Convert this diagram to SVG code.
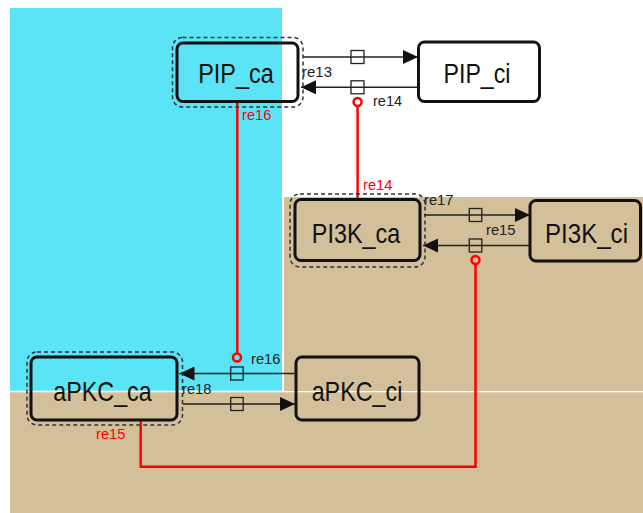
<svg xmlns="http://www.w3.org/2000/svg" width="643" height="513" viewBox="0 0 643 513">
<style>
.node{fill:none;stroke:#111;stroke-width:3}
.dash{fill:none;stroke:#333;stroke-width:1.5;stroke-dasharray:4 3}
.lbl{font-family:"Liberation Sans Narrow","Liberation Sans",Arial,sans-serif;font-size:28.5px;fill:#111;text-anchor:middle}
.sm{font-family:"Liberation Sans",Arial,sans-serif;font-size:14.5px;fill:#222}
.rl{font-family:"Liberation Sans",Arial,sans-serif;font-size:14.5px;fill:#f00}
.ln{fill:none;stroke:#222;stroke-width:1.5}
.sq{fill:none;stroke:#222;stroke-width:1.3}
.red{fill:none;stroke:#f00;stroke-width:2.5}
</style>
<defs>
<marker id="ah" markerWidth="16" markerHeight="14" refX="15" refY="7" orient="auto" markerUnits="userSpaceOnUse">
<path d="M0,0 L15,7 L0,14 Z" fill="#111"/>
</marker>
</defs>
<rect width="643" height="513" fill="#fff"/>
<g id="compartments">
<rect x="284" y="197" width="359" height="194" fill="#D3BF99"/>
<rect x="10" y="392.3" width="633" height="121" fill="#D3BF99"/>
<rect x="10" y="8" width="272" height="382.7" fill="#5AE4F5"/>
</g>
<g id="connectors">
<!-- re13 -->
<line class="ln" x1="303" y1="57" x2="418" y2="57" marker-end="url(#ah)"/>
<rect class="sq" x="351" y="50.5" width="13" height="13"/>
<!-- re14 -->
<line class="ln" x1="418" y1="87.3" x2="301" y2="87.3" marker-end="url(#ah)"/>
<rect class="sq" x="351" y="80.8" width="13" height="13"/>
<!-- re17 -->
<line class="ln" x1="424" y1="215" x2="530" y2="215" marker-end="url(#ah)"/>
<rect class="sq" x="469.3" y="208.5" width="12.5" height="13"/>
<!-- re15 -->
<line class="ln" x1="530" y1="245.5" x2="423" y2="245.5" marker-end="url(#ah)"/>
<rect class="sq" x="469.3" y="239" width="12.5" height="13"/>
<!-- re16 -->
<line class="ln" x1="296" y1="373.5" x2="179.5" y2="373.5" marker-end="url(#ah)"/>
<rect class="sq" x="230.7" y="367" width="12.5" height="13"/>
<!-- re18 -->
<line class="ln" x1="183" y1="404" x2="295" y2="404" marker-end="url(#ah)"/>
<rect class="sq" x="230.7" y="397.5" width="12.5" height="13"/>
<!-- modifiers -->
<line class="red" x1="237.3" y1="101" x2="237.3" y2="353.3"/>
<circle class="red" cx="237" cy="357.5" r="4" stroke-width="2"/>
<line class="red" x1="357.6" y1="106" x2="357.6" y2="199"/>
<circle class="red" cx="357.6" cy="102" r="4" stroke-width="2"/>
<polyline class="red" points="140.7,420 140.7,466.7 475.5,466.7 475.5,264"/>
<circle class="red" cx="475.5" cy="260" r="4" stroke-width="2"/>
<text class="sm" x="302" y="77" textLength="30" lengthAdjust="spacingAndGlyphs">re13</text>
<text class="sm" x="373" y="106" textLength="29" lengthAdjust="spacingAndGlyphs">re14</text>
<text class="sm" x="424" y="205" textLength="29.5" lengthAdjust="spacingAndGlyphs">re17</text>
<text class="sm" x="486" y="235" textLength="29.5" lengthAdjust="spacingAndGlyphs">re15</text>
<text class="sm" x="251" y="364" textLength="29.5" lengthAdjust="spacingAndGlyphs">re16</text>
<text class="sm" x="182" y="394.3" textLength="29.5" lengthAdjust="spacingAndGlyphs">re18</text>
<text class="rl" x="242" y="120" textLength="29.5" lengthAdjust="spacingAndGlyphs">re16</text>
<text class="rl" x="363" y="190" textLength="29.5" lengthAdjust="spacingAndGlyphs">re14</text>
<text class="rl" x="96" y="439" textLength="29.5" lengthAdjust="spacingAndGlyphs">re15</text>
</g>
<g id="PIP_ca">
<rect class="dash" x="172.5" y="37.5" width="130.5" height="69.5" rx="10"/>
<rect class="node" x="177" y="43" width="121" height="58.5" rx="6"/>
<text class="lbl" x="236" y="83.3" textLength="75.5" lengthAdjust="spacingAndGlyphs">PIP_ca</text>
</g>
<g id="PIP_ci">
<rect class="node" x="418.5" y="42" width="121" height="59.5" rx="6"/>
<text class="lbl" x="477" y="83.3" textLength="67" lengthAdjust="spacingAndGlyphs">PIP_ci</text>
</g>
<g id="PI3K_ca">
<rect class="dash" x="290" y="194" width="135" height="73" rx="10"/>
<rect class="node" x="295" y="199.5" width="125" height="61" rx="6"/>
<text class="lbl" x="356" y="242.7" textLength="88.3" lengthAdjust="spacingAndGlyphs">PI3K_ca</text>
</g>
<g id="PI3K_ci">
<rect class="node" x="530" y="200.5" width="110.5" height="60.5" rx="6"/>
<text class="lbl" x="586.5" y="242.7" textLength="83" lengthAdjust="spacingAndGlyphs">PI3K_ci</text>
</g>
<g id="aPKC_ca">
<rect class="dash" x="27" y="352" width="155.5" height="73" rx="10"/>
<rect class="node" x="31" y="357" width="146" height="63" rx="6"/>
<text class="lbl" x="102.5" y="401" textLength="98.5" lengthAdjust="spacingAndGlyphs">aPKC_ca</text>
</g>
<g id="aPKC_ci">
<rect class="node" x="296" y="357" width="123" height="63" rx="6"/>
<text class="lbl" x="357" y="400.7" textLength="90.7" lengthAdjust="spacingAndGlyphs">aPKC_ci</text>
</g>
</svg>
